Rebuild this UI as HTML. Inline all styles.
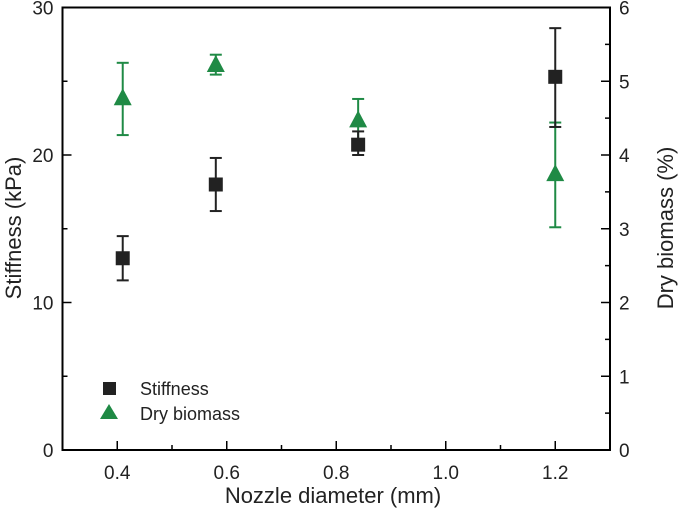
<!DOCTYPE html>
<html><head><meta charset="utf-8"><style>
body{margin:0;background:#fff}
svg{display:block;font-family:"Liberation Sans",Arial,sans-serif}
</style></head><body>
<svg id="chart" width="681" height="515">
<g id="axes"></g><g id="marks"></g>
</svg>
<script>
const xTicks=[0.4,0.6,0.8,1.0,1.2];
const xTickLabels=["0.4","0.6","0.8","1.0","1.2"];
const yLeftTicks=[0,10,20,30];
const yRightTicks=[0,1,2,3,4,5,6];
const stiffX=[0.41,0.58,0.84,1.2];
const stiffVal=[13.0,18.0,20.7,25.3];
const stiffHi=[14.5,19.8,21.6,28.6];
const stiffLo=[11.5,16.2,20.0,21.9];
const bioX=[0.41,0.58,0.84,1.2];
const bioVal=[4.77,5.22,4.47,3.74];
const bioHi=[5.25,5.36,4.76,4.44];
const bioLo=[4.27,5.09,4.18,3.02];

const L=62.5,R=610,T=7.5,B=450;
const xs=v=>L+(v-0.3)/(1.0)*(R-L);
const yl=v=>B-v/30*(B-T);
const yr=v=>B-v/6*(B-T);
const NS="http://www.w3.org/2000/svg";
function mk(tag,attrs,parent){const e=document.createElementNS(NS,tag);for(const k in attrs)e.setAttribute(k,attrs[k]);parent.appendChild(e);return e;}
const ax=document.getElementById('axes'),mg=document.getElementById('marks');
let f=mk('rect',{x:L,y:T,width:R-L,height:B-T,fill:'none',stroke:'#000','stroke-width':2},ax);

for(let v=0.3;v<=1.301;v+=0.1){const big=Math.abs(Math.round(v*10)%2)==0;const x=xs(v);
 mk('line',{x1:x,x2:x,y1:B,y2:B-(big?9:5),stroke:'#000','stroke-width':1.5},ax);}
xTicks.forEach((v,i)=>{const t=mk('text',{x:xs(v),y:B+29,'text-anchor':'middle','font-size':19,fill:'#222'},ax);t.textContent=xTickLabels[i];
 });
for(let v=0;v<=30;v+=5){const y=yl(v);mk('line',{x1:L,x2:L+(v%10==0?9:5),y1:y,y2:y,stroke:'#000','stroke-width':1.5},ax);}
yLeftTicks.forEach(v=>{const t=mk('text',{x:L-9,y:yl(v)+7,'text-anchor':'end','font-size':19,fill:'#222'},ax);t.textContent=v;
 });
for(let v=0;v<=6.001;v+=0.5){const y=yr(v);mk('line',{x1:R,x2:R-(Math.abs(v-Math.round(v))<0.01?9:5),y1:y,y2:y,stroke:'#000','stroke-width':1.5},ax);}
yRightTicks.forEach(v=>{const t=mk('text',{x:R+9,y:yr(v)+7,'text-anchor':'start','font-size':19,fill:'#222'},ax);t.textContent=v;
 });
let t=mk('text',{x:333,y:503,'text-anchor':'middle','font-size':22,fill:'#222'},ax);t.textContent='Nozzle diameter (mm)';

t=mk('text',{transform:'translate(21,228) rotate(-90)','text-anchor':'middle','font-size':22,fill:'#222'},ax);t.textContent='Stiffness (kPa)';

t=mk('text',{transform:'translate(673,228) rotate(-90)','text-anchor':'middle','font-size':22,fill:'#222'},ax);t.textContent='Dry biomass (%)';


function errbar(x,y1,y2,col){mk('line',{x1:x,x2:x,y1:y1,y2:y2,stroke:col,'stroke-width':2},mg);
 [y1,y2].forEach(y=>mk('line',{x1:x-6,x2:x+6,y1:y,y2:y,stroke:col,'stroke-width':2},mg));}
const green='#1f8a45';
bioX.forEach((v,i)=>{const x=xs(v);errbar(x,yr(bioHi[i]),yr(bioLo[i]),green);const y=yr(bioVal[i]);
 const p=mk('polygon',{points:`${x},${y-10} ${x-9},${y+7} ${x+9},${y+7}`,fill:green},mg);
 });
stiffX.forEach((v,i)=>{const x=xs(v);errbar(x,yl(stiffHi[i]),yl(stiffLo[i]),'#222');const y=yl(stiffVal[i]);
 const r=mk('rect',{x:x-7,y:y-7,width:14,height:14,fill:'#222'},mg);
 });
let lg=mk('g',{},ax);
mk('rect',{x:103,y:382,width:13,height:13,fill:'#222'},lg);
mk('polygon',{points:'109,404 100,419 118,419',fill:green},lg);
t=mk('text',{x:140,y:395,'font-size':18,fill:'#222'},lg);t.textContent='Stiffness';

t=mk('text',{x:140,y:420,'font-size':18,fill:'#222'},lg);t.textContent='Dry biomass';

</script>
</body></html>
